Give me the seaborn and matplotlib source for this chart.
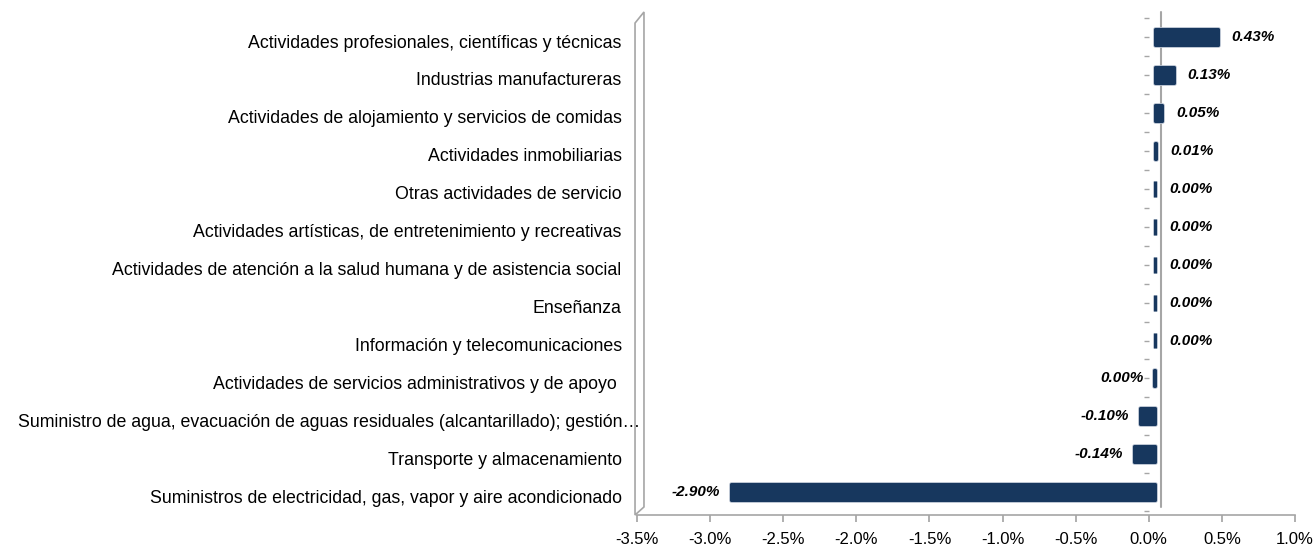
import matplotlib
matplotlib.use('Agg')
import numpy as np
import pandas as pd
import seaborn as sns
import matplotlib.pyplot as plt
from matplotlib import transforms, patheffects
from matplotlib.patches import Polygon

sns.set_theme(style='white')
plt.rcParams['font.family'] = ['Liberation Sans', 'DejaVu Sans']

sectores = [
    'Actividades profesionales, científicas y técnicas',
    'Industrias manufactureras',
    'Actividades de alojamiento y servicios de comidas',
    'Actividades inmobiliarias',
    'Otras actividades de servicio',
    'Actividades artísticas, de entretenimiento y recreativas',
    'Actividades de atención a la salud humana y de asistencia social',
    'Enseñanza',
    'Información y telecomunicaciones',
    'Actividades de servicios administrativos y de apoyo ',
    'Suministro de agua, evacuación de aguas residuales (alcantarillado); gestión…',
    'Transporte y almacenamiento',
    'Suministros de electricidad, gas, vapor y aire acondicionado',
]
variacion = [0.43, 0.13, 0.05, 0.01, 0.003, 0.002, 0.002, 0.001, 0.001,
             -0.002, -0.10, -0.14, -2.90]
etiquetas = ['0.43%', '0.13%', '0.05%', '0.01%', '0.00%', '0.00%', '0.00%',
             '0.00%', '0.00%', '0.00%', '-0.10%', '-0.14%', '-2.90%']
xticks = [-3.5, -3.0, -2.5, -2.0, -1.5, -1.0, -0.5, 0.0, 0.5, 1.0]

navy = '#17375e'
grey = '#a6a6a6'

df = pd.DataFrame({'sector': sectores, 'var': variacion})

fig = plt.figure(figsize=(13.15, 5.46), dpi=100)
ax = fig.add_axes([637 / 1315, 31 / 546, 658 / 1315, 503 / 546])

sns.barplot(data=df, x='var', y='sector', orient='h', color=navy,
            saturation=1, width=0.42, ax=ax, zorder=2)

# bars sit slightly right of the tick at 0 (3D look)
shift = transforms.ScaledTranslation(6 / 100, 0, fig.dpi_scale_trans)
for p in ax.patches:
    p.set_transform(ax.transData + shift)
    p.set_edgecolor(navy)
    p.set_linewidth(2.2)
    p.set_joinstyle('round')
    p.set_path_effects([patheffects.Stroke(linewidth=3.4, foreground='#b9c3d1'),
                        patheffects.Normal()])

for i, (v, t) in enumerate(zip(variacion, etiquetas)):
    if v >= 0:
        ax.annotate(t, (v, i), xytext=(20, 0), textcoords='offset pixels',
                    ha='left', va='center', fontsize=11, fontweight='bold',
                    style='italic', color='black')
    else:
        ax.annotate(t, (v, i), xytext=(-5, 0), textcoords='offset pixels',
                    ha='right', va='center', fontsize=11, fontweight='bold',
                    style='italic', color='black')

ax.set_xlim(-3.5, 1.0)
ax.set_ylim(12.6, -0.66)
ax.set_xticks(xticks)
ax.set_xticklabels([f'{x:.1f}%' for x in xticks])
ax.set_xlabel('')
ax.set_ylabel('')

for s in ['top', 'right', 'left']:
    ax.spines[s].set_visible(False)
ax.spines['bottom'].set_color(grey)
ax.spines['bottom'].set_linewidth(1.2)
ax.tick_params(axis='x', bottom=True, length=5, color=grey, labelsize=12,
               pad=7, labelcolor='black')
ax.tick_params(axis='y', left=False, length=0, pad=11, labelsize=12.8,
               labelcolor='black')

# labels sit a little below the bar centres; the truncated one runs into the wall
down = transforms.ScaledTranslation(0, -4 / 100, fig.dpi_scale_trans)
for lbl in ax.get_yticklabels():
    tr = lbl.get_transform() + down
    if lbl.get_text().endswith('…'):
        tr = tr + transforms.ScaledTranslation(18 / 100, 0, fig.dpi_scale_trans)
    lbl.set_transform(tr)

# back-wall zero line
zero_tr = transforms.offset_copy(ax.get_xaxis_transform(), fig=fig,
                                 x=12, y=0, units='dots')
ax.plot([0, 0], [0.016, 1.0], transform=zero_tr, color=grey, lw=1.5,
        clip_on=False, zorder=1)

# small ticks along the value axis, behind the bars
ax.hlines(np.arange(-0.5, 12.6, 0.5), -0.035, 0, color=grey, lw=1, zorder=0.5)

# left wall panel
wall = Polygon([(-0.003, 0), (-0.003, 0.978), (0.0106, 1.0), (0.0106, 0.016)],
               closed=True, facecolor='white', edgecolor=grey, lw=1.2,
               transform=ax.transAxes, clip_on=False, zorder=0)
ax.add_patch(wall)

fig.savefig('out.png', dpi=100)
